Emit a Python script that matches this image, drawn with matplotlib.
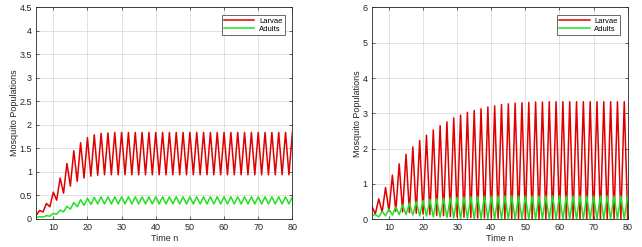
import numpy as np
import matplotlib
matplotlib.use('Agg')
import matplotlib.pyplot as plt

plt.rcParams['font.family'] = ['Liberation Sans', 'DejaVu Sans']

# Time steps
n = np.arange(5, 81)

# Left panel
larvae_a = [0.08, 0.18, 0.15, 0.33, 0.26, 0.57, 0.40, 0.87, 0.55, 1.18,
            0.70, 1.45, 0.80, 1.62, 0.87, 1.73, 0.91, 1.79, 0.93, 1.82,
            0.94, 1.83, 0.94, 1.84, 0.94, 1.84, 0.94, 1.84, 0.94, 1.84,
            0.94, 1.84, 0.94, 1.84, 0.94, 1.84, 0.94, 1.84, 0.94, 1.84,
            0.94, 1.84, 0.94, 1.84, 0.94, 1.84, 0.94, 1.84, 0.94, 1.84,
            0.94, 1.84, 0.94, 1.84, 0.94, 1.84, 0.94, 1.84, 0.94, 1.84,
            0.94, 1.84, 0.94, 1.84, 0.94, 1.84, 0.94, 1.84, 0.94, 1.84,
            0.94, 1.84, 0.94, 1.84, 0.94, 1.84]
adults_a = [0.03, 0.05, 0.04, 0.07, 0.06, 0.12, 0.10, 0.19, 0.15, 0.27,
            0.21, 0.35, 0.26, 0.41, 0.29, 0.44, 0.31, 0.46, 0.32, 0.47,
            0.32, 0.47, 0.32, 0.47, 0.32, 0.47, 0.32, 0.47, 0.32, 0.47,
            0.32, 0.47, 0.32, 0.47, 0.32, 0.47, 0.32, 0.47, 0.32, 0.47,
            0.32, 0.47, 0.32, 0.47, 0.32, 0.47, 0.32, 0.47, 0.32, 0.47,
            0.32, 0.47, 0.32, 0.47, 0.32, 0.47, 0.32, 0.47, 0.32, 0.47,
            0.32, 0.47, 0.32, 0.47, 0.32, 0.47, 0.32, 0.47, 0.32, 0.47,
            0.32, 0.47, 0.32, 0.47, 0.32, 0.47]

# Right panel
larvae_b = [0.37, 0.15, 0.58, 0.20, 0.90, 0.23, 1.25, 0.23, 1.57, 0.21,
            1.84, 0.19, 2.05, 0.17, 2.23, 0.15, 2.38, 0.13, 2.53, 0.11,
            2.65, 0.10, 2.76, 0.08, 2.87, 0.07, 2.95, 0.06, 3.03, 0.05,
            3.08, 0.04, 3.13, 0.04, 3.18, 0.03, 3.21, 0.03, 3.25, 0.02,
            3.27, 0.02, 3.29, 0.02, 3.30, 0.01, 3.31, 0.01, 3.32, 0.01,
            3.32, 0.01, 3.33, 0.01, 3.33, 0.01, 3.33, 0.01, 3.33, 0.01,
            3.33, 0.01, 3.33, 0.01, 3.33, 0.01, 3.33, 0.01, 3.33, 0.01,
            3.33, 0.01, 3.33, 0.01, 3.33, 0.01]
adults_b = [0.12, 0.13, 0.07, 0.22, 0.10, 0.29, 0.12, 0.35, 0.13, 0.41,
            0.13, 0.46, 0.12, 0.50, 0.10, 0.53, 0.09, 0.56, 0.07, 0.58,
            0.06, 0.60, 0.05, 0.61, 0.04, 0.62, 0.03, 0.63, 0.03, 0.64,
            0.02, 0.65, 0.02, 0.65, 0.02, 0.66, 0.01, 0.66, 0.01, 0.66,
            0.01, 0.66, 0.01, 0.66, 0.01, 0.66, 0.01, 0.66, 0.01, 0.66,
            0.01, 0.66, 0.01, 0.66, 0.01, 0.66, 0.01, 0.66, 0.01, 0.66,
            0.01, 0.66, 0.01, 0.66, 0.01, 0.66, 0.01, 0.66, 0.01, 0.66,
            0.01, 0.66, 0.01, 0.66, 0.01, 0.66]

red = '#e00000'
green = '#22e022'

fig = plt.figure(figsize=(6.42, 2.47), dpi=100)
ax1 = fig.add_axes([0.0564, 0.1134, 0.399, 0.857])
ax2 = fig.add_axes([0.5793, 0.1121, 0.3984, 0.858])

panels = [(ax1, larvae_a, adults_a, 4.5, np.arange(0, 4.51, 0.5), ['0', '0.5', '1', '1.5', '2', '2.5', '3', '3.5', '4', '4.5']),
          (ax2, larvae_b, adults_b, 6, np.arange(0, 7, 1), ['0', '1', '2', '3', '4', '5', '6'])]

for ax, lar, adu, ymax, yt, ytl in panels:
    ax.plot(n, lar, color=red, lw=1.1, label='Larvae')
    ax.plot(n, adu, color=green, lw=1.1, label='Adults')
    ax.set_xlim(5, 80)
    ax.set_ylim(0, ymax)
    ax.set_xticks([10, 20, 30, 40, 50, 60, 70, 80])
    ax.set_yticks(yt)
    ax.set_yticklabels(ytl)
    ax.grid(True, color='#dddddd', lw=0.6)
    ax.set_axisbelow(True)
    ax.tick_params(direction='in', length=2, width=0.5, labelsize=6.5, pad=3,
                   top=True, right=True, colors='#262626')
    for s in ax.spines.values():
        s.set_linewidth(0.6)
        s.set_color('#262626')
    ax.set_xlabel('Time n', fontsize=6.5, labelpad=1, color='#262626')
    ax.set_ylabel('Mosquito Populations', fontsize=6.5, labelpad=0.5, color='#262626')
    leg = ax.legend(loc='upper right', fontsize=5.5, handlelength=4, frameon=True,
                    fancybox=False, edgecolor='#262626', borderaxespad=1.0,
                    borderpad=0.3, labelspacing=0.15, handletextpad=0.6)
    leg.get_frame().set_linewidth(0.6)

fig.savefig('out.png', dpi=100)
